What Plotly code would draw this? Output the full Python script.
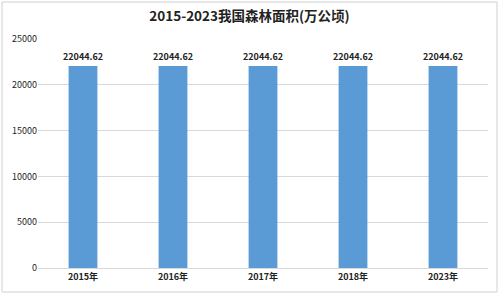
import plotly.graph_objects as go

categories = ["2015年", "2016年", "2017年", "2018年", "2023年"]
values = [22044.62, 22044.62, 22044.62, 22044.62, 22044.62]
y_ticks = [0, 5000, 10000, 15000, 20000, 25000]
title = "2015-2023我国森林面积(万公顷)"

font_family = "Noto Sans CJK SC, Liberation Sans, sans-serif"

fig = go.Figure(go.Bar(
    x=categories, y=values,
    marker=dict(color="#5B9BD5", line=dict(width=0)),
    width=0.32,
    text=[f"<b>{v:.2f}</b>" for v in values],
    textposition="outside",
    constraintext="none",
    textfont=dict(size=9, color="#222222", family=font_family),
    cliponaxis=False,
))

fig.update_layout(
    width=499, height=294,
    margin=dict(l=38, r=11, t=39, b=26),
    paper_bgcolor="white", plot_bgcolor="white",
    title=dict(text="<b>" + title + "</b>", x=0.5, xanchor="center", y=0.945, yanchor="middle",
               font=dict(size=13.5, color="#222222", family=font_family)),
    showlegend=False,
    xaxis=dict(showgrid=False, showline=True, linecolor="#d9d9d9", linewidth=1,
               ticks="", tickfont=dict(size=9, color="#222222", family=font_family),
               tickprefix="<b>", ticksuffix="</b>"),
    yaxis=dict(range=[0, 25000], tickvals=y_ticks, ticktext=[str(t) for t in y_ticks],
               showgrid=True, gridcolor="#d9d9d9", gridwidth=1, zeroline=False,
               showline=False, ticks="", ticklen=0,
               tickfont=dict(size=9, color="#222222", family=font_family)),
    shapes=[dict(type="rect", xref="paper", yref="paper",
                 x0=-36/450, x1=1+9/450, y0=-24/229, y1=1+37/229,
                 line=dict(color="#d0d0d0", width=1), fillcolor="rgba(0,0,0,0)")],
)

fig.write_html("out.html")
